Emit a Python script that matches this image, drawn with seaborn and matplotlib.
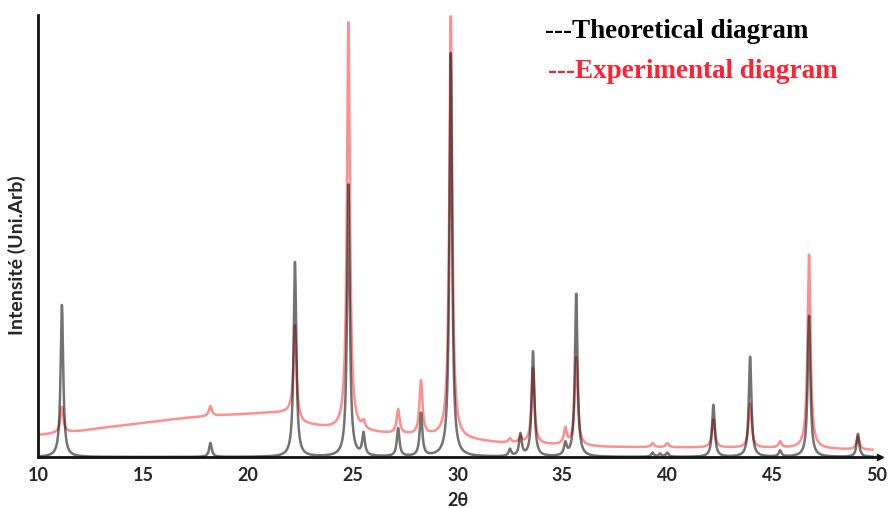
import numpy as np
import pandas as pd
import matplotlib
matplotlib.use("Agg")
import matplotlib.pyplot as plt
import seaborn as sns

# Peak table of the theoretical (calculated) pattern: 2θ position, intensity
theo_pos = [11.14, 18.22, 22.25, 24.80, 25.52, 27.17, 28.26, 29.68, 32.50, 33.00,
            33.60, 35.14, 35.66, 39.30, 39.66, 40.00, 42.20, 43.95, 45.38, 46.76, 49.09]
theo_int = [152, 14, 195, 272, 22, 28, 43, 404, 7, 22,
            105, 12, 163, 4, 3, 4, 52, 100, 6, 141, 23]

# Peak table of the measured pattern (intensity above the background)
exp_pos = [11.14, 18.22, 22.25, 24.80, 25.52, 27.17, 28.26, 29.68, 32.50, 33.00,
           33.60, 35.14, 35.66, 39.30, 40.00, 42.20, 43.95, 45.38, 46.76, 49.09]
exp_int = [26, 10, 92, 408, 7, 24, 54, 422, 4, 6,
           76, 16, 88, 4, 4, 28, 44, 6, 194, 13]

# Background of the measured pattern
bg_pos = [10.0, 11.0, 12.0, 13.0, 15.0, 17.0, 19.0, 21.0, 22.0, 22.6, 24.0,
          26.0, 29.0, 31.0, 32.0, 34.5, 37.0, 45.0, 49.8]
bg_int = [22, 24, 26, 29, 34, 39, 42, 44, 44, 33, 28,
          24, 20, 16, 14, 12, 10, 9, 7]

x_ticks = [10, 15, 20, 25, 30, 35, 40, 45, 50]


def pattern(tt, pos, amp, hwhm):
    y = np.zeros_like(tt)
    for p, a in zip(pos, amp):
        y += a * hwhm ** 2 / ((tt - p) ** 2 + hwhm ** 2)
    return y


tt = np.linspace(10.0, 49.8, 6000)
theo = pattern(tt, theo_pos, theo_int, 0.075)
exp = np.interp(tt, bg_pos, bg_int) + pattern(tt, exp_pos, exp_int, 0.085)

df = pd.concat([
    pd.DataFrame({"2θ": tt, "I": exp, "serie": "Experimental"}),
    pd.DataFrame({"2θ": tt, "I": theo, "serie": "Theoretical"}),
])

sns.set_style("white")
fig = plt.figure(figsize=(8.9, 5.08), dpi=100)
ax = fig.add_axes([38 / 890, 51 / 508, 839 / 890, 442 / 508])

sns.lineplot(data=df[df.serie == "Experimental"], x="2θ", y="I", color="#ff2020",
             alpha=0.5, lw=1.8, estimator=None, sort=False, ax=ax)
sns.lineplot(data=df[df.serie == "Theoretical"], x="2θ", y="I", color="black",
             alpha=0.55, lw=1.8, estimator=None, sort=False, ax=ax)

ax.set_xlim(10, 50)
ax.set_ylim(0, 442)
ax.set_xticks(x_ticks)
ax.set_yticks([])
for s in ["top", "right"]:
    ax.spines[s].set_visible(False)
for s in ["left", "bottom"]:
    ax.spines[s].set_linewidth(2)
    ax.spines[s].set_color("#111111")
ax.plot([1.004], [0], marker=">", ms=4, color="#111111",
        transform=ax.transAxes, clip_on=False)

lab_font = dict(family=["Lato", "DejaVu Sans"], weight="bold", color="#262626")
ax.tick_params(axis="x", direction="out", length=3, width=2.5, color="#111111",
               pad=4, labelsize=13)
for t in ax.get_xticklabels():
    t.set_fontfamily(["Lato", "DejaVu Sans"])
    t.set_fontweight("bold")
    t.set_color("#262626")
ax.set_xlabel("2θ", fontsize=13, labelpad=6, **lab_font)
ax.set_ylabel("Intensité (Uni.Arb)", fontsize=14, **lab_font)
ax.yaxis.set_label_coords(-0.0143, 0.457)

leg_font = dict(family="Liberation Serif", weight="bold", fontsize=19.5, va="center")
fig.text(545 / 890, 1 - 32 / 508, "---Theoretical diagram", color="black", **leg_font)
fig.text(548 / 890, 1 - 72 / 508, "---Experimental diagram", color="#ff2030", **leg_font)

fig.savefig("out.png", dpi=100)
